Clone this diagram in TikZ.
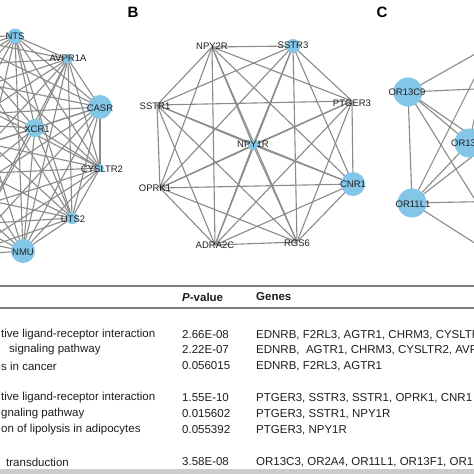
\documentclass[tikz,border=0pt]{standalone}
\usepackage{fontspec}
\setmainfont{Liberation Sans}
\definecolor{edgegray}{RGB}{138,138,138}
\definecolor{nodeblue}{RGB}{132,198,232}
\definecolor{txt}{RGB}{30,30,30}
\definecolor{rulegray}{RGB}{128,128,128}
\definecolor{bandgray}{RGB}{204,204,204}
\tikzset{
  edge/.style={draw=edgegray, line width=1.1pt},
  gnode/.style={circle, fill=nodeblue, inner sep=0pt, minimum size=#1},
  glabel/.style={font=\fontsize{9.5}{10}\selectfont, text=txt, inner sep=0pt},
  tabtext/.style={font=\fontsize{11.5}{12}\selectfont, text=txt, inner sep=0pt, anchor=west},
  tabhead/.style={font=\fontsize{11.5}{12}\selectfont\bfseries, text=txt, inner sep=0pt, anchor=west},
  panel/.style={font=\fontsize{15}{16}\selectfont\bfseries, text=black, inner sep=0pt},
  tabrule/.style={draw=rulegray, line width=1.5pt}
}
\begin{document}
\begin{tikzpicture}[x=1pt,y=-1pt]
\useasboundingbox (0,0) rectangle (474,474);
\clip (0,0) rectangle (474,474);
\fill[white] (0,0) rectangle (474,474);

% ---------- Panel A coordinates ----------
\coordinate (nts) at (15,36);
\coordinate (avpr) at (68,59);
\coordinate (casr) at (100,107);
\coordinate (xcr) at (35,128);
\coordinate (cys) at (100,168);
\coordinate (uts) at (72,218);
\coordinate (nmu) at (23,251);
\coordinate (ha1) at (-35,255);
\coordinate (ha2) at (-87,228);
\coordinate (ha3) at (-118,178);
\coordinate (ha4) at (-120,120);
\coordinate (ha5) at (-93,68);
\coordinate (ha6) at (-43,37);

% ---------- Panel B coordinates ----------
\coordinate (npytwo) at (212,47);
\coordinate (sstrthree) at (293,46);
\coordinate (sstrone) at (157,105);
\coordinate (ptger) at (352,101);
\coordinate (npyone) at (253,145);
\coordinate (oprk) at (160,188);
\coordinate (cnr) at (353,184);
\coordinate (adra) at (215,245);
\coordinate (rgs) at (297,242);

% ---------- Panel C coordinates ----------
\coordinate (orcnine) at (408,92);
\coordinate (orthirteen) at (469,143);
\coordinate (orelevenl) at (412,203);
\coordinate (hc1) at (491,45);
\coordinate (hc2) at (565,85);
\coordinate (hc3) at (565,200);
\coordinate (hc4) at (520,272);

% ---------- Edges (complete graphs) ----------
\foreach \a [count=\i] in {nts,avpr,casr,xcr,cys,uts,nmu,ha1,ha2,ha3,ha4,ha5,ha6}{
  \foreach \b [count=\j] in {nts,avpr,casr,xcr,cys,uts,nmu,ha1,ha2,ha3,ha4,ha5,ha6}{
    \ifnum\j>\i \draw[edge] (\a) -- (\b); \fi
  }
}
\foreach \a [count=\i] in {npytwo,sstrthree,sstrone,ptger,npyone,oprk,cnr,adra,rgs}{
  \foreach \b [count=\j] in {npytwo,sstrthree,sstrone,ptger,npyone,oprk,cnr,adra,rgs}{
    \ifnum\j>\i \draw[edge] (\a) -- (\b); \fi
  }
}
\foreach \a [count=\i] in {orcnine,orthirteen,orelevenl,hc1,hc2,hc3,hc4}{
  \foreach \b [count=\j] in {orcnine,orthirteen,orelevenl,hc1,hc2,hc3,hc4}{
    \ifnum\j>\i \draw[edge] (\a) -- (\b); \fi
  }
}

% ---------- Node circles ----------
\node[gnode=15pt] (ntsc) at (nts) {};
\node[gnode=10pt] (avprc) at (avpr) {};
\node[gnode=24pt] (casrc) at (casr) {};
\node[gnode=18pt] (xcrc) at (xcr) {};
\node[gnode=8pt] (cysc) at (cys) {};
\node[gnode=12pt] (utsc) at (uts) {};
\node[gnode=24pt] (nmuc) at (nmu) {};
\node[gnode=14pt] (sstrthreec) at (sstrthree) {};
\node[gnode=10pt] (npyonec) at (npyone) {};
\node[gnode=24pt] (cnrc) at (cnr) {};
\node[gnode=29pt] (orcninec) at (orcnine) {};
\node[gnode=29pt] (orthirteenc) at (orthirteen) {};
\node[gnode=29pt] (orelevenlc) at (orelevenl) {};

% ---------- Labels ----------
\node[glabel] (ntsl) at (15,36) {NTS};
\node[glabel] (avprl) at (68,58) {AVPR1A};
\node[glabel] (casrl) at (100,108) {CASR};
\node[glabel] (xcrl) at (37,129) {XCR1};
\node[glabel] (cysl) at (102,169) {CYSLTR2};
\node[glabel] (utsl) at (73,219) {UTS2};
\node[glabel] (nmul) at (23,252) {NMU};
\node[glabel] (npytwol) at (212,46) {NPY2R};
\node[glabel] (sstrthreel) at (293,45) {SSTR3};
\node[glabel] (sstronel) at (155,106) {SSTR1};
\node[glabel] (ptgerl) at (352,103) {PTGER3};
\node[glabel] (npyonel) at (253,144) {NPY1R};
\node[glabel] (oprkl) at (155,188) {OPRK1};
\node[glabel] (cnrl) at (353,184) {CNR1};
\node[glabel] (adral) at (215,245) {ADRA2C};
\node[glabel] (rgsl) at (297,243) {RGS6};
\node[glabel] (orcninel) at (407,92) {OR13C9};
\node[glabel, anchor=west] (orthirteenl) at (451,143) {OR13};
\node[glabel] (orelevenll) at (413,204) {OR11L1};

\node[panel] (lb) at (133,12) {B};
\node[panel] (lc) at (382,12) {C};

% ---------- Table ----------
\draw[tabrule] (0,286) -- (474,286);
\draw[tabrule] (0,308) -- (474,308);
\fill[bandgray] (0,469) rectangle (474,474);

\node[tabhead] (hp) at (182,297) {\textit{P}-value};
\node[tabhead] (hg) at (256,297) {Genes};

\node[tabtext] (r1a) at (1,335) {tive ligand-receptor interaction};
\node[tabtext] (r1b) at (182,335) {2.66E-08};
\node[tabtext] (r1c) at (256,335) {EDNRB, F2RL3, AGTR1, CHRM3, CYSLTR};
\node[tabtext] (r2a) at (9,350) {signaling pathway};
\node[tabtext] (r2b) at (182,350) {2.22E-07};
\node[tabtext] (r2c) at (256,350) {EDNRB,\ \ AGTR1, CHRM3, CYSLTR2, AVP};
\node[tabtext] (r3a) at (1,366) {s in cancer};
\node[tabtext] (r3b) at (182,366) {0.056015};
\node[tabtext] (r3c) at (256,366) {EDNRB, F2RL3, AGTR1};

\node[tabtext] (r4a) at (1,398) {tive ligand-receptor interaction};
\node[tabtext] (r4b) at (182,398) {1.55E-10};
\node[tabtext] (r4c) at (256,398) {PTGER3, SSTR3, SSTR1, OPRK1, CNR1};
\node[tabtext] (r5a) at (1,414) {gnaling pathway};
\node[tabtext] (r5b) at (182,414) {0.015602};
\node[tabtext] (r5c) at (256,414) {PTGER3, SSTR1, NPY1R};
\node[tabtext] (r6a) at (1,430) {on of lipolysis in adipocytes};
\node[tabtext] (r6b) at (182,430) {0.055392};
\node[tabtext] (r6c) at (256,430) {PTGER3, NPY1R};

\node[tabtext] (r7a) at (6,462) {transduction};
\node[tabtext] (r7b) at (182,462) {3.58E-08};
\node[tabtext] (r7c) at (256,462) {OR13C3, OR2A4, OR11L1, OR13F1, OR1};
\end{tikzpicture}
\end{document}
